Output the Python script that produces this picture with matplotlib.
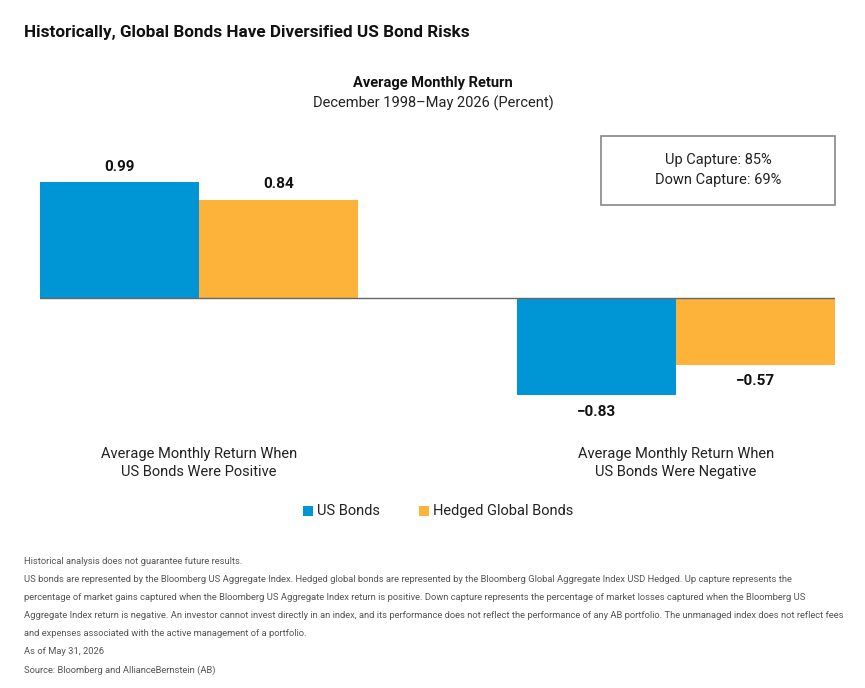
import matplotlib
matplotlib.use("Agg")
import matplotlib.pyplot as plt
from matplotlib.patches import Rectangle

plt.rcParams['font.family'] = ['Roboto', 'DejaVu Sans']

categories = ["Average Monthly Return When\nUS Bonds Were Positive",
              "Average Monthly Return When\nUS Bonds Were Negative"]
series_names = ["US Bonds", "Hedged Global Bonds"]
us_bonds = [0.99, -0.83]
hedged_global = [0.84, -0.57]
up_capture = 85
down_capture = 69

blue = "#0096d6"
orange = "#fdb339"

W, H = 865, 688
fig = plt.figure(figsize=(W/100, H/100), dpi=100)

def fx(px):
    return px / W

def fy(py):
    return 1 - py / H

ymin, ymax = -1.0, 1.2
scale = 117.0
zero_px = 298
ax_top = zero_px - ymax * scale
ax_bot = zero_px - ymin * scale
xlo, xhi = -1/3, 1 + 1/3
ax = fig.add_axes([fx(40), fy(ax_bot), fx(835) - fx(40), (ax_bot - ax_top) / H])
ax.set_xlim(xlo, xhi)
ax.set_ylim(ymin, ymax)
ax.axis('off')

bw = 1/3
xs = [0, 1]
for i, (a, b) in enumerate(zip(us_bonds, hedged_global)):
    ax.bar(xs[i] - bw/2, a, width=bw, color=blue, linewidth=0)
    ax.bar(xs[i] + bw/2, b, width=bw, color=orange, linewidth=0)
    for x, v in ((xs[i] - bw/2, a), (xs[i] + bw/2, b)):
        lab = f"{v:.2f}".replace("-", "\u2212")
        if v >= 0:
            ax.annotate(lab, (x, v), xytext=(0, 6), textcoords='offset points',
                        ha='center', va='bottom', fontsize=11, fontweight='bold', color='#111111')
        else:
            ax.annotate(lab, (x, v), xytext=(0, -7), textcoords='offset points',
                        ha='center', va='top', fontsize=11, fontweight='bold', color='#111111')
ax.axhline(0, color='#666666', lw=1.0)

# category labels
for i, c in enumerate(categories):
    ax.annotate(c, (xs[i], 0), xycoords=('data', 'figure fraction'),
                xytext=(xs[i], fy(463)), textcoords=('data', 'figure fraction'),
                ha='center', va='center', fontsize=10.5, color='#222222', linespacing=1.3)

# titles
fig.text(fx(24), fy(32), "Historically, Global Bonds Have Diversified US Bond Risks",
         ha='left', va='center', fontsize=12.3, fontweight='bold', color='#111111')
fig.text(fx(433), fy(83), "Average Monthly Return", ha='center', va='center',
         fontsize=10.5, fontweight='bold', color='#111111')
fig.text(fx(433), fy(103), "December 1998\u2013May 2026 (Percent)", ha='center', va='center',
         fontsize=10.5, color='#222222')

# capture box
fig.patches.append(Rectangle((fx(601), fy(205)), fx(835) - fx(601), fy(136) - fy(205),
                             transform=fig.transFigure, fill=False, edgecolor='#888888', lw=1.2))
fig.text(fx(718), fy(160), f"Up Capture: {up_capture}%", ha='center', va='center',
         fontsize=10.5, color='#222222')
fig.text(fx(718), fy(180), f"Down Capture: {down_capture}%", ha='center', va='center',
         fontsize=10.5, color='#222222')

# legend
for (sx, tx, name, col) in ((303, 317, series_names[0], blue), (419, 433, series_names[1], orange)):
    fig.patches.append(Rectangle((fx(sx), fy(516)), 10/W, 10/H, transform=fig.transFigure,
                                 facecolor=col, edgecolor='none'))
    fig.text(fx(tx), fy(511), name, ha='left', va='center', fontsize=10.5, color='#222222')

notes = [
    "Historical analysis does not guarantee future results.",
    "US bonds are represented by the Bloomberg US Aggregate Index. Hedged global bonds are represented by the Bloomberg Global Aggregate Index USD Hedged. Up capture represents the",
    "percentage of market gains captured when the Bloomberg US Aggregate Index return is positive. Down capture represents the percentage of market losses captured when the Bloomberg US",
    "Aggregate Index return is negative. An investor cannot invest directly in an index, and its performance does not reflect the performance of any AB portfolio. The unmanaged index does not reflect fees",
    "and expenses associated with the active management of a portfolio.",
    "As of May 31, 2026",
    "Source: Bloomberg and AllianceBernstein (AB)",
]
for i, n in enumerate(notes):
    fig.text(fx(24), fy(562 + 18 * i), n, ha='left', va='center', fontsize=6.75,
             color='#555555')

fig.savefig("out.png", dpi=100)
